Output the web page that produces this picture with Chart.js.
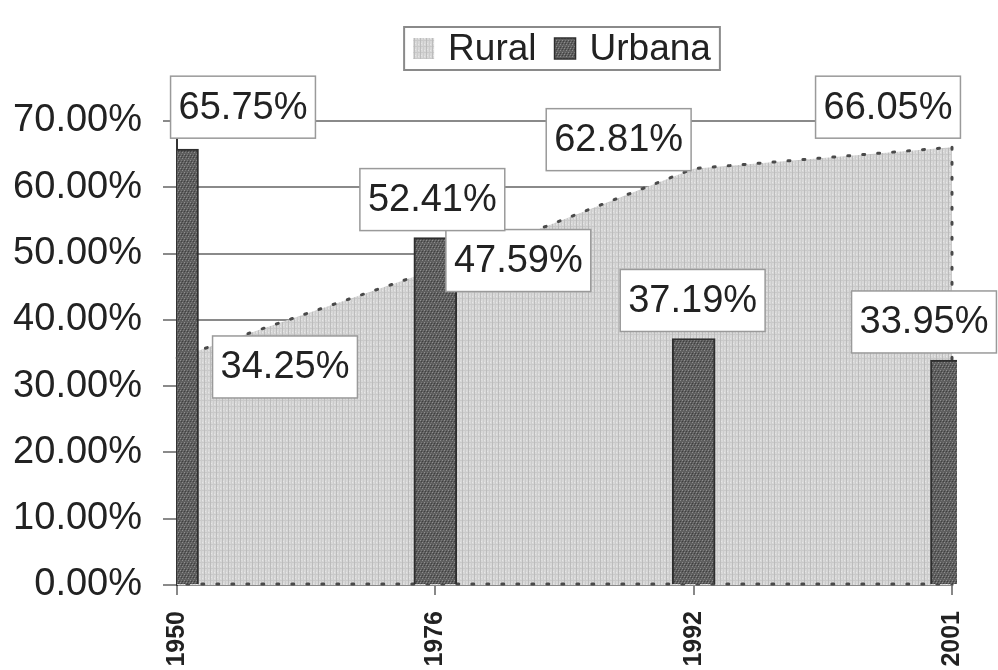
<!DOCTYPE html>
<html>
<head>
<meta charset="utf-8">
<script src="https://cdn.jsdelivr.net/npm/chart.js@4"></script>
<style>
  body { margin: 0; background: #fff; }
</style>
</head>
<body>
<canvas id="chart" width="998" height="670"></canvas>
<script>
// Data Block
const years = ["1950", "1976", "1992", "2001"];
const rural = [34.25, 47.59, 62.81, 66.05];
const urbana = [65.75, 52.41, 37.19, 33.95];

// where each value label sits, relative to its point / bar top (px)
const ruralLabelShift = [[108, 9], [83, -9], [-75, -29], [-64, -40]];
const urbanaLabelShift = [[66, -42], [-3, -38], [-1, -38], [-28, -38]];

const FONT = "'Liberation Sans', Arial, sans-serif";
Chart.defaults.font.family = FONT;

// small tiles used as fill patterns, like the old printed chart
function makePattern(base, dots) {
  const c = document.createElement("canvas");
  c.width = 6;
  c.height = 6;
  const g = c.getContext("2d");
  g.fillStyle = base;
  g.fillRect(0, 0, 6, 6);
  dots.forEach(([x, y, col]) => {
    g.fillStyle = col;
    g.fillRect(x, y, 1, 1);
  });
  return g.createPattern(c, "repeat");
}

const ruralDots = [];
for (let y = 0; y < 6; y++) ruralDots.push([0, y, "#bcbcbc"], [3, y, "#cbcbcb"]);
for (let x = 1; x < 6; x++) if (x !== 3) ruralDots.push([x, 4, "#c9c9c9"]);
ruralDots.push([1, 1, "#e6e6e6"], [4, 2, "#e6e6e6"]);
const ruralFill = makePattern("#d8d8d8", ruralDots);

const urbanaFill = makePattern("#5e5e5e", [
  [0, 0, "#8e8e8e"], [2, 2, "#8e8e8e"], [4, 4, "#8e8e8e"],
  [3, 0, "#7a7a7a"], [5, 2, "#7a7a7a"], [1, 4, "#7a7a7a"],
  [1, 1, "#404040"], [4, 1, "#404040"], [2, 5, "#404040"], [5, 5, "#404040"],
]);

// dotted outline on the right and bottom edge of the area
const areaOutline = {
  id: "areaOutline",
  afterDatasetDraw(chart, args) {
    if (args.index !== 0) return;
    const pts = args.meta.data;
    const first = pts[0];
    const last = pts[pts.length - 1];
    const base = chart.scales.y.getPixelForValue(0);
    const ctx = chart.ctx;
    ctx.save();
    ctx.strokeStyle = "#4a4a4a";
    ctx.lineWidth = 3;
    ctx.lineCap = "round";
    ctx.setLineDash([2, 13]);
    ctx.beginPath();
    ctx.moveTo(last.x, last.y);
    ctx.lineTo(last.x, base - 1);
    ctx.lineTo(first.x, base - 1);
    ctx.stroke();
    ctx.restore();
  },
};

// boxed value labels
const labelBoxes = {
  id: "labelBoxes",
  afterDatasetsDraw(chart) {
    const ctx = chart.ctx;
    ctx.save();
    ctx.font = "38px " + FONT;
    ctx.textAlign = "center";
    ctx.textBaseline = "middle";
    chart.data.datasets.forEach((ds, di) => {
      const meta = chart.getDatasetMeta(di);
      const shift = di === 0 ? ruralLabelShift : urbanaLabelShift;
      meta.data.forEach((el, i) => {
        const text = ds.data[i].toFixed(2) + "%";
        const x = el.x + shift[i][0];
        const y = el.y + shift[i][1];
        const w = ctx.measureText(text).width + 16;
        const h = 62;
        ctx.fillStyle = "#fff";
        ctx.fillRect(x - w / 2, y - h / 2, w, h);
        ctx.strokeStyle = "#9a9a9a";
        ctx.lineWidth = 1.5;
        ctx.strokeRect(x - w / 2, y - h / 2, w, h);
        ctx.fillStyle = "#222";
        ctx.fillText(text, x, y + 1);
      });
    });
    ctx.restore();
  },
};

// legend with a frame round it
const boxedLegend = {
  id: "boxedLegend",
  afterDraw(chart) {
    const ctx = chart.ctx;
    ctx.save();
    ctx.font = "37px " + FONT;
    const sw = 21, gap = 14, between = 18, pad = 9;
    const items = chart.data.datasets.map((ds) => ({
      label: ds.label,
      fill: ds.backgroundColor,
      edge: ds.type === "bar",
      w: ctx.measureText(ds.label).width,
    }));
    const total = pad * 2 + items.reduce((s, it) => s + sw + gap + it.w, 0) + between * (items.length - 1);
    const cx = 562, top = 27, h = 43;
    let x = cx - total / 2;
    ctx.fillStyle = "#fff";
    ctx.fillRect(x, top, total, h);
    ctx.strokeStyle = "#8a8a8a";
    ctx.lineWidth = 2;
    ctx.strokeRect(x, top, total, h);
    x += pad;
    ctx.textBaseline = "middle";
    items.forEach((it) => {
      const sy = top + (h - sw) / 2;
      ctx.fillStyle = it.fill;
      ctx.fillRect(x, sy, sw, sw);
      if (it.edge) {
        ctx.strokeStyle = "#2e2e2e";
        ctx.lineWidth = 1.5;
        ctx.strokeRect(x, sy, sw, sw);
      }
      x += sw + gap;
      ctx.fillStyle = "#222";
      ctx.fillText(it.label, x, top + h / 2 + 1);
      x += it.w + between;
    });
    ctx.restore();
  },
};

// Config Block
const config = {
  data: {
    labels: years,
    datasets: [
      {
        type: "line",
        label: "Rural",
        data: rural,
        order: 1,
        fill: "origin",
        backgroundColor: ruralFill,
        borderColor: "#4a4a4a",
        borderWidth: 3,
        borderDash: [2, 13],
        borderCapStyle: "round",
        pointRadius: 0,
        tension: 0,
      },
      {
        type: "bar",
        label: "Urbana",
        data: urbana,
        order: 0,
        backgroundColor: urbanaFill,
        borderColor: "#2e2e2e",
        borderWidth: 2,
        barThickness: 43,
        clip: { left: 0, top: false, right: 5, bottom: 0 },
      },
    ],
  },
  options: {
    responsive: false,
    animation: false,
    devicePixelRatio: 1,
    layout: { padding: { top: 121, right: 41, bottom: 0, left: 0 } },
    plugins: {
      legend: { display: false },
      tooltip: { enabled: false },
    },
    scales: {
      x: {
        type: "category",
        offset: false,
        grid: { offset: false, drawOnChartArea: false, tickLength: 10, color: "#888", lineWidth: 2 },
        border: { color: "#8a8a8a", width: 2 },
        ticks: {
          minRotation: 90,
          maxRotation: 90,
          padding: 16,
          color: "#222",
          font: { size: 25, weight: "bold" },
        },
        afterFit: (s) => { s.height = 85; },
      },
      y: {
        min: 0,
        max: 70,
        ticks: {
          stepSize: 10,
          padding: 21,
          color: "#222",
          font: { size: 38 },
          callback: (v) => v.toFixed(2) + "%",
        },
        grid: { color: "#8a8a8a", lineWidth: 2, tickLength: 14 },
        border: { color: "#333", width: 2 },
        afterFit: (s) => { s.width = 177; },
      },
    },
  },
  plugins: [areaOutline, labelBoxes, boxedLegend],
};

// Render Block
const chart = new Chart(document.getElementById("chart"), config);
</script>
</body>
</html>
